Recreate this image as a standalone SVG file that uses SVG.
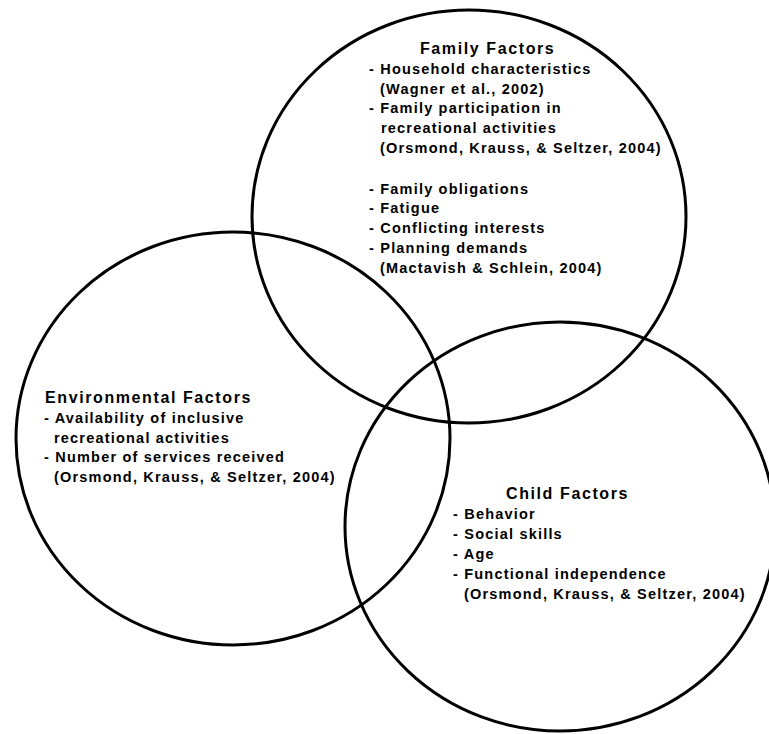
<svg xmlns="http://www.w3.org/2000/svg" width="769" height="734" viewBox="0 0 769 734">
<style>
.ring{fill:none;stroke:#000;stroke-width:3}
.t{font-family:"Liberation Sans",Arial,sans-serif;font-weight:bold;font-size:14.5px;letter-spacing:1.2px;fill:#000}
.h{font-family:"Liberation Sans",Arial,sans-serif;font-weight:bold;font-size:16px;letter-spacing:1.6px;fill:#000}
</style>
<rect width="769" height="734" fill="#fff"/>
<g id="family">
<ellipse class="ring" cx="469" cy="216.5" rx="217" ry="206.5"/>
<text class="h" x="420" y="54">Family Factors</text>
<text class="t" x="369" y="74">- Household characteristics</text>
<text class="t" x="380" y="94">(Wagner et al., 2002)</text>
<text class="t" x="369" y="113">- Family participation in</text>
<text class="t" x="381" y="133">recreational activities</text>
<text class="t" x="380" y="153">(Orsmond, Krauss, &amp; Seltzer, 2004)</text>
<text class="t" x="369" y="194">- Family obligations</text>
<text class="t" x="369" y="213">- Fatigue</text>
<text class="t" x="369" y="233">- Conflicting interests</text>
<text class="t" x="369" y="253">- Planning demands</text>
<text class="t" x="380" y="273">(Mactavish &amp; Schlein, 2004)</text>
</g>
<g id="environmental">
<ellipse class="ring" cx="233" cy="438.5" rx="217" ry="206.5"/>
<text class="h" x="45" y="403">Environmental Factors</text>
<text class="t" x="44" y="423">- Availability of inclusive</text>
<text class="t" x="54" y="443">recreational activities</text>
<text class="t" x="44" y="462">- Number of services received</text>
<text class="t" x="54" y="482">(Orsmond, Krauss, &amp; Seltzer, 2004)</text>
</g>
<g id="child">
<ellipse class="ring" cx="560" cy="526.5" rx="215" ry="204.5"/>
<text class="h" x="506" y="499">Child Factors</text>
<text class="t" x="453" y="519">- Behavior</text>
<text class="t" x="453" y="539">- Social skills</text>
<text class="t" x="453" y="559">- Age</text>
<text class="t" x="453" y="579">- Functional independence</text>
<text class="t" x="464" y="599">(Orsmond, Krauss, &amp; Seltzer, 2004)</text>
</g>
<g id="connectors"/>
</svg>
